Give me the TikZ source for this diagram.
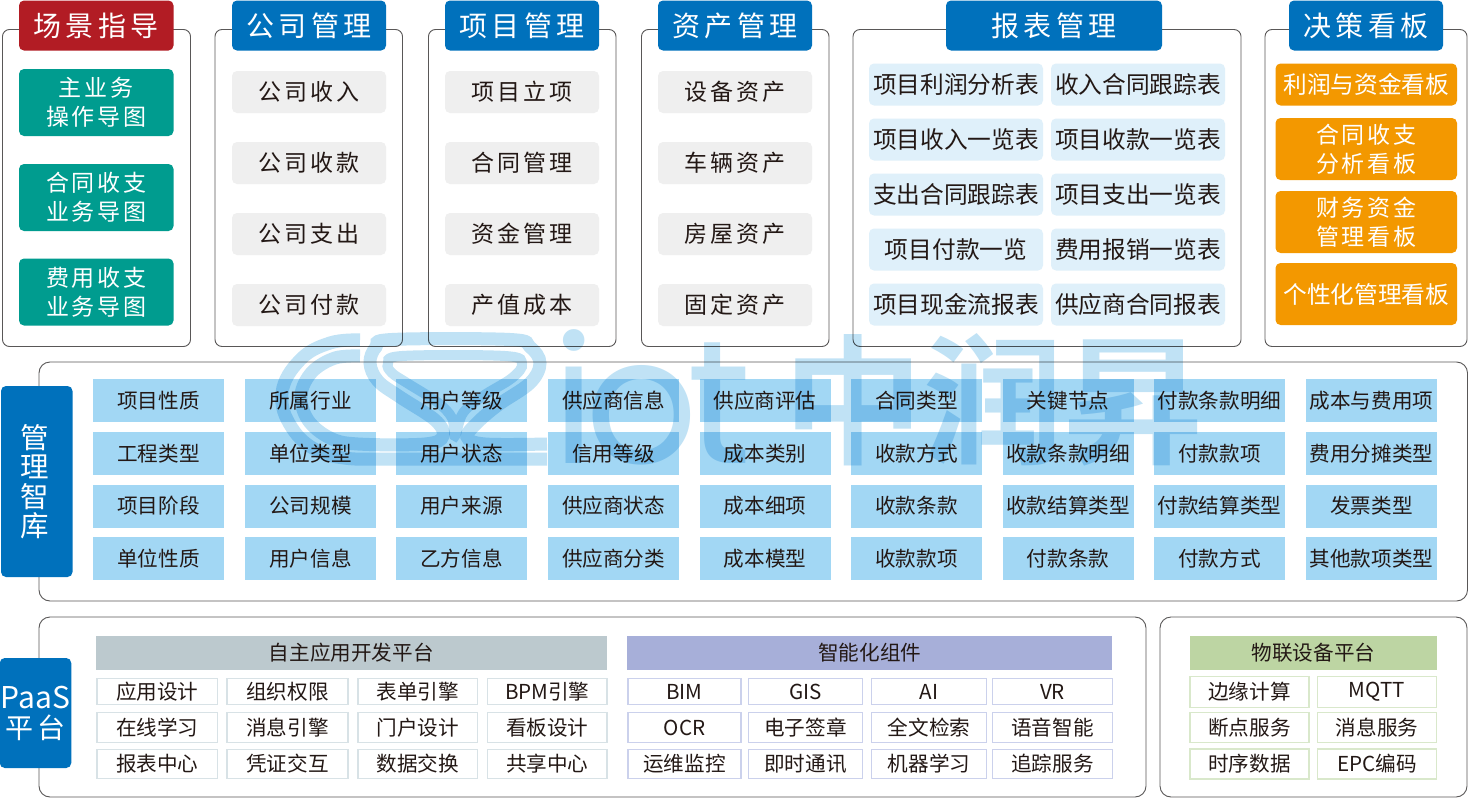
\documentclass[tikz,border=0pt]{standalone}
\usepackage{fontspec}
\setmainfont{Noto Sans CJK SC}
\newfontfamily\cjkwide[LetterSpace=12]{Noto Sans CJK SC}
\newfontfamily\cjkhead[LetterSpace=16]{Noto Sans CJK SC}
\newfontfamily\markcjk{Noto Sans CJK SC Bold}
\newfontfamily\marklatin[LetterSpace=-6]{Poppins}
\definecolor{headblue}{HTML}{0071BC}
\definecolor{headred}{HTML}{B21C24}
\definecolor{guidegreen}{HTML}{009C8F}
\definecolor{itemgray}{HTML}{EFEFEF}
\definecolor{reportfill}{HTML}{DFF0FA}
\definecolor{boardorange}{HTML}{F39800}
\definecolor{cellblue}{HTML}{A2D7F4}
\definecolor{devslate}{HTML}{BCC9CE}
\definecolor{devedge}{HTML}{D8E2E6}
\definecolor{smartviolet}{HTML}{A7AFD9}
\definecolor{smartedge}{HTML}{CBD1EC}
\definecolor{iotgreen}{HTML}{BDD5A3}
\definecolor{iotedge}{HTML}{D9E8CB}
\definecolor{framegray}{HTML}{595757}
\definecolor{inkdark}{HTML}{231815}
\definecolor{markblue}{HTML}{C0E2F5}
\tikzset{
  box/.style={rounded corners=5pt,align=center,inner sep=0pt,text=inkdark},
  groupframe/.style={draw=framegray,line width=0.9pt,rounded corners=7pt,fill=white,inner sep=0pt},
  layerframe/.style={groupframe,rounded corners=11pt},
  headbox/.style={box,fill=headblue,text=white,minimum height=50pt,font=\cjkhead\fontsize{28}{30}\selectfont},
  guidebox/.style={box,fill=guidegreen,text=white,minimum width=154.5pt,minimum height=67pt,font=\cjkwide\fontsize{23}{29}\selectfont},
  itembox/.style={box,fill=itemgray,minimum width=154pt,minimum height=42pt,font=\cjkwide\fontsize{23}{29}\selectfont},
  reportbox/.style={box,fill=reportfill,minimum width=174pt,minimum height=42pt,font=\fontsize{23.7}{29}\selectfont},
  boardbox/.style={box,fill=boardorange,text=white,minimum width=181.5pt,minimum height=62pt,font=\cjkwide\fontsize{23}{29}\selectfont},
  tabbox/.style={box,fill=headblue,text=white,minimum width=71.5pt,font=\fontsize{28.5}{29.5}\selectfont},
  cellbox/.style={box,rounded corners=0pt,fill=cellblue,minimum width=131pt,minimum height=43pt,font=\fontsize{20.6}{24}\selectfont},
  bandbox/.style={box,rounded corners=0pt,minimum height=34pt,font=\fontsize{20.6}{24}\selectfont},
  tilebox/.style={box,rounded corners=0pt,fill=white,line width=1.2pt,font=\fontsize{20.6}{24}\selectfont},
  devtile/.style={tilebox,draw=devedge},
  smarttile/.style={tilebox,draw=smartedge},
  iottile/.style={tilebox,draw=iotedge},
  markstrand/.style={draw=markblue,line width=13pt,line cap=butt}
}
\begin{document}
\begin{tikzpicture}[x=1pt,y=-1pt]
  \useasboundingbox (0,0) rectangle (1468,798);
  \node[groupframe,minimum width=188pt,minimum height=317pt] (sceneframe) at (96.5,188) {};
  \node[groupframe,minimum width=187.5pt,minimum height=317pt] (compframe) at (308.75,188) {};
  \node[groupframe,minimum width=187.5pt,minimum height=317pt] (projframe) at (522.25,188) {};
  \node[groupframe,minimum width=187.5pt,minimum height=317pt] (assetframe) at (735.25,188) {};
  \node[groupframe,minimum width=388pt,minimum height=317pt] (reportframe) at (1047,188) {};
  \node[groupframe,minimum width=202pt,minimum height=317pt] (boardframe) at (1366,188) {};
  \node[headbox,fill=headred,minimum width=154.5pt] (scenehead) at (96.25,25.5) {场景指导};
  \node[headbox,minimum width=154pt] (comphead) at (309,25.5) {公司管理};
  \node[headbox,minimum width=154pt] (projhead) at (522,25.5) {项目管理};
  \node[headbox,minimum width=154pt] (assethead) at (735,25.5) {资产管理};
  \node[headbox,minimum width=216pt] (reporthead) at (1054,25.5) {报表管理};
  \node[headbox,minimum width=154pt] (boardhead) at (1366,25.5) {决策看板};
  \node[guidebox] (guidea) at (96.25,102.5) {主业务\\操作导图};
  \node[guidebox] (guideb) at (96.25,197.5) {合同收支\\业务导图};
  \node[guidebox] (guidec) at (96.25,292) {费用收支\\业务导图};
  \node[itembox] (compa) at (309,92) {公司收入};
  \node[itembox] (compb) at (309,163) {公司收款};
  \node[itembox] (compc) at (309,234) {公司支出};
  \node[itembox] (compd) at (309,305) {公司付款};
  \node[itembox] (proja) at (522,92) {项目立项};
  \node[itembox] (projb) at (522,163) {合同管理};
  \node[itembox] (projc) at (522,234) {资金管理};
  \node[itembox] (projd) at (522,305) {产值成本};
  \node[itembox] (asseta) at (735,92) {设备资产};
  \node[itembox] (assetb) at (735,163) {车辆资产};
  \node[itembox] (assetc) at (735,234) {房屋资产};
  \node[itembox] (assetd) at (735,305) {固定资产};
  \node[reportbox] (reporta) at (956,84.5) {项目利润分析表};
  \node[reportbox] (reportb) at (956,139.5) {项目收入一览表};
  \node[reportbox] (reportc) at (956,194.5) {支出合同跟踪表};
  \node[reportbox] (reportd) at (956,249.5) {项目付款一览};
  \node[reportbox] (reporte) at (956,304.5) {项目现金流报表};
  \node[reportbox] (reportf) at (1138,84.5) {收入合同跟踪表};
  \node[reportbox] (reportg) at (1138,139.5) {项目收款一览表};
  \node[reportbox] (reporth) at (1138,194.5) {项目支出一览表};
  \node[reportbox] (reporti) at (1138,249.5) {费用报销一览表};
  \node[reportbox] (reportj) at (1138,304.5) {供应商合同报表};
  \node[boardbox,minimum height=42pt,font=\fontsize{23.7}{29}\selectfont] (boarda) at (1366.25,84.5) {利润与资金看板};
  \node[boardbox] (boardb) at (1366.25,149) {合同收支\\分析看板};
  \node[boardbox] (boardc) at (1366.25,222) {财务资金\\管理看板};
  \node[boardbox,font=\fontsize{23.7}{29}\selectfont] (boardd) at (1366.25,294) {个性化管理看板};
  \node[layerframe,minimum width=1428.5pt,minimum height=239pt] (libframe) at (753.25,481.5) {};
  \node[tabbox,minimum height=191pt] (libtab) at (36.75,481.5) {\hspace*{-4pt}管\\\hspace*{-4pt}理\\\hspace*{-4pt}智\\\hspace*{-4pt}库};
  \node[cellbox] (liba1) at (158.5,400.5) {项目性质};
  \node[cellbox] (liba2) at (158.5,453.5) {工程类型};
  \node[cellbox] (liba3) at (158.5,506) {项目阶段};
  \node[cellbox] (liba4) at (158.5,558.5) {单位性质};
  \node[cellbox] (libb1) at (310.5,400.5) {所属行业};
  \node[cellbox] (libb2) at (310.5,453.5) {单位类型};
  \node[cellbox] (libb3) at (310.5,506) {公司规模};
  \node[cellbox] (libb4) at (310.5,558.5) {用户信息};
  \node[cellbox] (libc1) at (461.5,400.5) {用户等级};
  \node[cellbox] (libc2) at (461.5,453.5) {用户状态};
  \node[cellbox] (libc3) at (461.5,506) {用户来源};
  \node[cellbox] (libc4) at (461.5,558.5) {乙方信息};
  \node[cellbox] (libd1) at (613.5,400.5) {供应商信息};
  \node[cellbox] (libd2) at (613.5,453.5) {信用等级};
  \node[cellbox] (libd3) at (613.5,506) {供应商状态};
  \node[cellbox] (libd4) at (613.5,558.5) {供应商分类};
  \node[cellbox] (libe1) at (765,400.5) {供应商评估};
  \node[cellbox] (libe2) at (765,453.5) {成本类别};
  \node[cellbox] (libe3) at (765,506) {成本细项};
  \node[cellbox] (libe4) at (765,558.5) {成本模型};
  \node[cellbox] (libf1) at (916.5,400.5) {合同类型};
  \node[cellbox] (libf2) at (916.5,453.5) {收款方式};
  \node[cellbox] (libf3) at (916.5,506) {收款条款};
  \node[cellbox] (libf4) at (916.5,558.5) {收款款项};
  \node[cellbox] (libg1) at (1068,400.5) {关键节点};
  \node[cellbox] (libg2) at (1068,453.5) {收款条款明细};
  \node[cellbox] (libg3) at (1068,506) {收款结算类型};
  \node[cellbox] (libg4) at (1068,558.5) {付款条款};
  \node[cellbox] (libh1) at (1219.5,400.5) {付款条款明细};
  \node[cellbox] (libh2) at (1219.5,453.5) {付款款项};
  \node[cellbox] (libh3) at (1219.5,506) {付款结算类型};
  \node[cellbox] (libh4) at (1219.5,558.5) {付款方式};
  \node[cellbox] (libi1) at (1371.5,400.5) {成本与费用项};
  \node[cellbox] (libi2) at (1371.5,453.5) {费用分摊类型};
  \node[cellbox] (libi3) at (1371.5,506) {发票类型};
  \node[cellbox] (libi4) at (1371.5,558.5) {其他款项类型};
  \node[layerframe,minimum width=1107pt,minimum height=180pt] (paasframe) at (592.5,707) {};
  \node[layerframe,minimum width=307pt,minimum height=180pt] (iotframe) at (1313.5,707) {};
  \node[tabbox,minimum height=110pt,font=\fontsize{28}{30}\selectfont] (paastab) at (35.5,713) {{\fontsize{30}{30}\selectfont PaaS}\\{\cjkwide 平台}};
  \node[bandbox,fill=devslate,minimum width=510.7pt] (devband) at (351.3,653) {自主应用开发平台};
  \node[bandbox,fill=smartviolet,minimum width=485pt] (smartband) at (869.8,653) {智能化组件};
  \node[bandbox,fill=iotgreen,minimum width=247pt] (iotband) at (1313.5,653) {物联设备平台};
  \node[devtile,minimum width=120.5pt,minimum height=26pt] (deva1) at (157.25,691.7) {应用设计};
  \node[devtile,minimum width=121pt,minimum height=26pt] (devb1) at (287.5,691.7) {组织权限};
  \node[devtile,minimum width=119.5pt,minimum height=26pt] (devc1) at (417.75,691.7) {表单引擎};
  \node[devtile,minimum width=119.5pt,minimum height=26pt] (devd1) at (547.25,691.7) {BPM引擎};
  \node[devtile,minimum width=120.5pt,minimum height=30.5pt] (deva2) at (157.25,727.5) {在线学习};
  \node[devtile,minimum width=121pt,minimum height=30.5pt] (devb2) at (287.5,727.5) {消息引擎};
  \node[devtile,minimum width=119.5pt,minimum height=30.5pt] (devc2) at (417.75,727.5) {门户设计};
  \node[devtile,minimum width=119.5pt,minimum height=30.5pt] (devd2) at (547.25,727.5) {看板设计};
  \node[devtile,minimum width=120.5pt,minimum height=29.5pt] (deva3) at (157.25,764) {报表中心};
  \node[devtile,minimum width=121pt,minimum height=29.5pt] (devb3) at (287.5,764) {凭证交互};
  \node[devtile,minimum width=119.5pt,minimum height=29.5pt] (devc3) at (417.75,764) {数据交换};
  \node[devtile,minimum width=119.5pt,minimum height=29.5pt] (devd3) at (547.25,764) {共享中心};
  \node[smarttile,minimum width=113pt,minimum height=26pt] (smarta1) at (684.5,691.7) {BIM};
  \node[smarttile,minimum width=114.4pt,minimum height=26pt] (smartb1) at (805.5,691.7) {GIS};
  \node[smarttile,minimum width=115.7pt,minimum height=26pt] (smartc1) at (929,691.7) {AI};
  \node[smarttile,minimum width=120.4pt,minimum height=26pt] (smartd1) at (1052.5,691.7) {VR};
  \node[smarttile,minimum width=113pt,minimum height=30.5pt] (smarta2) at (684.5,727.5) {OCR};
  \node[smarttile,minimum width=114.4pt,minimum height=30.5pt] (smartb2) at (805.5,727.5) {电子签章};
  \node[smarttile,minimum width=115.7pt,minimum height=30.5pt] (smartc2) at (929,727.5) {全文检索};
  \node[smarttile,minimum width=120.4pt,minimum height=30.5pt] (smartd2) at (1052.5,727.5) {语音智能};
  \node[smarttile,minimum width=113pt,minimum height=29.5pt] (smarta3) at (684.5,764) {运维监控};
  \node[smarttile,minimum width=114.4pt,minimum height=29.5pt] (smartb3) at (805.5,764) {即时通讯};
  \node[smarttile,minimum width=115.7pt,minimum height=29.5pt] (smartc3) at (929,764) {机器学习};
  \node[smarttile,minimum width=120.4pt,minimum height=29.5pt] (smartd3) at (1052.5,764) {追踪服务};
  \node[iottile,minimum width=119pt,minimum height=30.3pt] (iota1) at (1249.5,692) {边缘计算};
  \node[iottile,minimum width=119.7pt,minimum height=30.3pt] (iotb1) at (1377,692) {MQTT};
  \node[iottile,minimum width=119pt,minimum height=30.5pt] (iota2) at (1249.5,727.5) {断点服务};
  \node[iottile,minimum width=119.7pt,minimum height=30.5pt] (iotb2) at (1377,727.5) {消息服务};
  \node[iottile,minimum width=119pt,minimum height=30pt] (iota3) at (1249.5,764) {时序数据};
  \node[iottile,minimum width=119.7pt,minimum height=30pt] (iotb3) at (1377,764) {EPC编码};
  \begin{scope}[blend mode=multiply]
    \draw[markstrand] plot[smooth,tension=0.7] coordinates {(360,340) (330,343) (300,360) (282,393) (292,428) (320,452) (355,459)} -- (547,459);
    \draw[markstrand] plot[smooth,tension=0.6] coordinates {(360,356) (335,358) (312,372) (301,395) (308,420) (330,438) (358,444) (425,444) (443,436) (435,420) (400,397) (378,381) (370,363) (376,347) (392,339.5) (510,339.5) (530,347) (540,363) (530,383) (498,405) (477,423) (467,437) (485,444) (547,444)};
    \draw[markstrand,line width=10pt] plot[smooth cycle,tension=0.6] coordinates {(455,436) (452,418) (437,402) (407,383) (392,373) (388,364) (402,356) (505,356) (522,364) (512,378) (483,396) (463,413)};
    \node[anchor=base west,inner sep=0pt,text=markblue,font=\marklatin\fontsize{176}{176}\selectfont] (markiot) at (552,463) {iot};
    \node[inner sep=0pt,text=markblue,font=\markcjk\fontsize{140}{140}\selectfont] (markname) at (993,400) {中润昇};
  \end{scope}
\end{tikzpicture}
\end{document}
